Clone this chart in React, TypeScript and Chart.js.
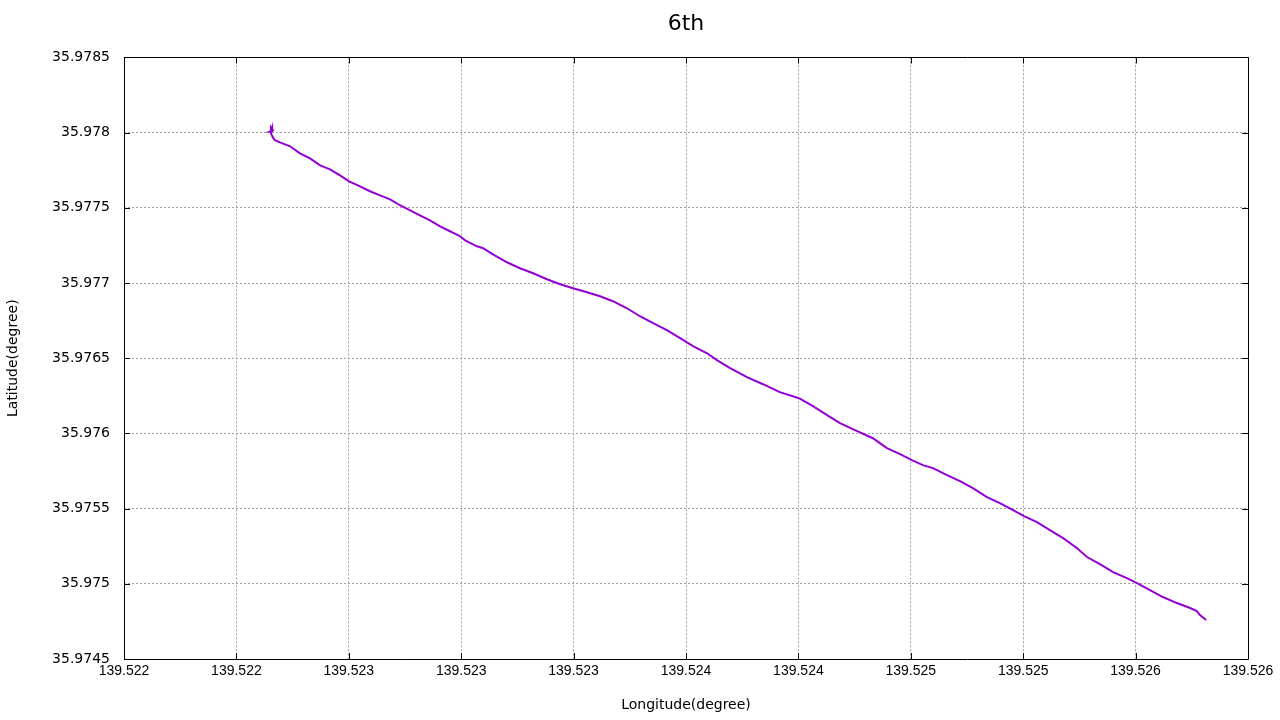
import React, { useEffect, useRef } from "react";
import { Chart, registerables } from "chart.js";

Chart.register(...registerables);

const longitude: number[] = [
  139.522423, 139.522427, 139.522427, 139.522420, 139.522430, 139.522423,
  139.522423, 139.522430, 139.522437, 139.522455, 139.522491, 139.522526,
  139.522562, 139.522598, 139.522633, 139.522669, 139.522701, 139.522740,
  139.522775, 139.522811, 139.522847, 139.522882, 139.522918, 139.522953,
  139.522989, 139.523025, 139.523060, 139.523096, 139.523114, 139.523156,
  139.523178, 139.523213, 139.523263, 139.523309, 139.523356, 139.523405,
  139.523452, 139.523498, 139.523548, 139.523594, 139.523640, 139.523690,
  139.523736, 139.523783, 139.523832, 139.523879, 139.523925, 139.523975,
  139.524010, 139.524057, 139.524117, 139.524174, 139.524234, 139.524302,
  139.524352, 139.524402, 139.524448, 139.524509, 139.524565, 139.524615,
  139.524662, 139.524704, 139.524743, 139.524779, 139.524829, 139.524875,
  139.524921, 139.524971, 139.525017, 139.525064, 139.525103, 139.525149,
  139.525195, 139.525242, 139.525291, 139.525327, 139.525373, 139.525420,
  139.525469, 139.525505, 139.525551, 139.525597, 139.525647, 139.525694,
  139.525718, 139.525729, 139.525751,
];

const latitude: number[] = [
  35.978002, 35.978028, 35.978008, 35.978008, 35.978015, 35.978035,
  35.977995, 35.977968, 35.977949, 35.977935, 35.977909, 35.977862,
  35.977829, 35.977782, 35.977756, 35.977716, 35.977676, 35.977643,
  35.977610, 35.977583, 35.977556, 35.977517, 35.977483, 35.977450,
  35.977417, 35.977377, 35.977344, 35.977311, 35.977284, 35.977244,
  35.977231, 35.977191, 35.977138, 35.977098, 35.977065, 35.977025,
  35.976992, 35.976965, 35.976939, 35.976912, 35.976879, 35.976832,
  35.976779, 35.976733, 35.976686, 35.976633, 35.976580, 35.976533,
  35.976487, 35.976434, 35.976374, 35.976327, 35.976274, 35.976234,
  35.976181, 35.976121, 35.976068, 35.976015, 35.975968, 35.975902,
  35.975862, 35.975822, 35.975789, 35.975769, 35.975723, 35.975683,
  35.975636, 35.975576, 35.975537, 35.975490, 35.975450, 35.975410,
  35.975357, 35.975304, 35.975238, 35.975178, 35.975131, 35.975078,
  35.975038, 35.975005, 35.974958, 35.974912, 35.974872, 35.974839,
  35.974819, 35.974792, 35.974759,
];

const xTickValues: number[] = [
  139.5219, 139.5223, 139.5227, 139.5231, 139.5235, 139.5239,
  139.5243, 139.5247, 139.5251, 139.5255, 139.5259,
];
const xTickLabels: string[] = [
  "139.522", "139.522", "139.523", "139.523", "139.523", "139.524",
  "139.524", "139.525", "139.525", "139.526", "139.526",
];
const yTickValues: number[] = [
  35.9745, 35.975, 35.9755, 35.976, 35.9765, 35.977, 35.9775, 35.978, 35.9785,
];
const yTickLabels: string[] = [
  "35.9745", "35.975", "35.9755", "35.976", "35.9765", "35.977", "35.9775", "35.978", "35.9785",
];
const chartTitle = "6th";

const FONT = "'Liberation Sans', Arial, sans-serif";
const WIDE = "'DejaVu Sans', sans-serif";

const boxPlugin = {
  id: "gnuplotBox",
  afterDatasetsDraw(chart: any) {
    const { ctx, chartArea } = chart;
    const { left, right, top, bottom } = chartArea;
    const xs = chart.scales.x;
    const ys = chart.scales.y;
    const tl = 6;
    ctx.save();
    ctx.strokeStyle = "#000";
    ctx.lineWidth = 1;
    ctx.setLineDash([]);
    ctx.beginPath();
    ctx.rect(Math.round(left) + 0.5, Math.round(top) + 0.5, Math.round(right - left), Math.round(bottom - top));
    ctx.stroke();
    ctx.beginPath();
    xTickValues.forEach((v) => {
      const px = Math.round(xs.getPixelForValue(v)) + 0.5;
      ctx.moveTo(px, bottom);
      ctx.lineTo(px, bottom - tl);
      ctx.moveTo(px, top);
      ctx.lineTo(px, top + tl);
    });
    yTickValues.forEach((v) => {
      const py = Math.round(ys.getPixelForValue(v)) + 0.5;
      ctx.moveTo(left, py);
      ctx.lineTo(left + tl, py);
      ctx.moveTo(right, py);
      ctx.lineTo(right - tl, py);
    });
    ctx.stroke();
    ctx.fillStyle = "#000";
    ctx.font = `22px ${WIDE}`;
    ctx.textAlign = "center";
    ctx.textBaseline = "middle";
    ctx.fillText(chartTitle, (left + right) / 2, 24);
    ctx.restore();
  },
};

export default function App() {
  const ref = useRef<HTMLCanvasElement | null>(null);

  useEffect(() => {
    if (!ref.current) return;
    const points = longitude.map((x, i) => ({ x, y: latitude[i] }));
    const chart = new Chart(ref.current, {
      type: "scatter",
      data: {
        datasets: [
          {
            data: points,
            showLine: true,
            borderColor: "#9400d3",
            backgroundColor: "#9400d3",
            borderWidth: 2,
            pointRadius: 0,
            tension: 0,
          },
        ],
      },
      plugins: [boxPlugin],
      options: {
        animation: false,
        responsive: false,
        maintainAspectRatio: false,
        layout: { padding: { left: 0, right: 32, top: 0, bottom: 0 } },
        plugins: {
          legend: { display: false },
          tooltip: { enabled: false },
          title: {
            display: true,
            text: chartTitle,
            color: "rgba(0,0,0,0)",
            font: { family: FONT, size: 22, weight: "normal" },
            padding: { top: 11, bottom: 20 },
          },
        },
        scales: {
          x: {
            type: "linear",
            min: 139.5219,
            max: 139.5259,
            afterBuildTicks: (scale: any) => {
              scale.ticks = xTickValues.map((v) => ({ value: v }));
            },
            afterFit: (scale: any) => {
              scale.height = 61;
            },
            ticks: {
              color: "#000",
              font: { family: FONT, size: 14 },
              padding: 4,
              maxRotation: 0,
              autoSkip: false,
              callback: (_v: any, i: number) => xTickLabels[i],
            },
            grid: {
              color: "#a0a0a0",
              lineWidth: 1,
              drawTicks: false,
            },
            border: { display: false, dash: [2, 2] },
            title: {
              display: true,
              text: "Longitude(degree)",
              color: "#000",
              font: { family: WIDE, size: 14 },
              padding: { top: 0, bottom: 6 },
            },
          },
          y: {
            type: "linear",
            min: 35.9745,
            max: 35.9785,
            afterBuildTicks: (scale: any) => {
              scale.ticks = yTickValues.map((v) => ({ value: v }));
            },
            afterFit: (scale: any) => {
              scale.width = 124;
            },
            ticks: {
              color: "#000",
              font: { family: WIDE, size: 14 },
              padding: 14,
              autoSkip: false,
              callback: (_v: any, i: number) => yTickLabels[i],
            },
            grid: {
              color: "#a0a0a0",
              lineWidth: 1,
              drawTicks: false,
            },
            border: { display: false, dash: [2, 2] },
            title: {
              display: true,
              text: "Latitude(degree)",
              color: "#000",
              font: { family: WIDE, size: 14 },
              padding: { top: 5, bottom: 0 },
            },
          },
        },
      },
    });
    return () => chart.destroy();
  }, []);

  return (
    <div style={{ position: "fixed", left: 0, top: 0, width: 1280, height: 720, background: "#fff" }}>
      <canvas ref={ref} width={1280} height={720} style={{ width: 1280, height: 720 }} />
    </div>
  );
}
